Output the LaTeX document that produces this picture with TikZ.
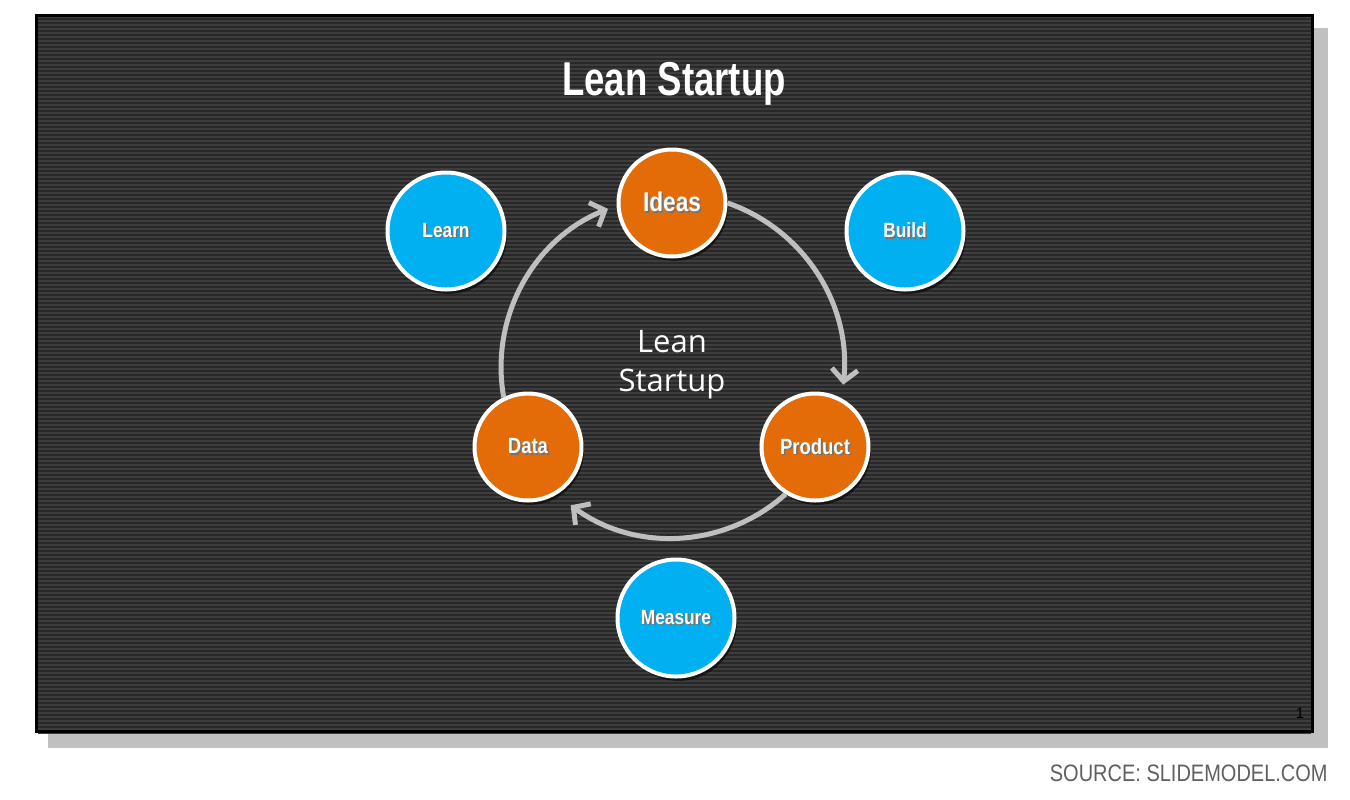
\documentclass[tikz,border=0pt]{standalone}
\usepackage{fontspec}
\usepackage{xcolor}
\usepackage{tikz}
\usetikzlibrary{arrows.meta,shadows}
\setmainfont{Liberation Sans}
\newfontfamily\titlefont[FakeStretch=0.77]{Liberation Sans}
\newfontfamily\stagefont[FakeStretch=0.84]{Liberation Sans}
\newfontfamily\centerfont{Open Sans}
\definecolor{slidebg}{HTML}{282828}
\definecolor{stripe}{HTML}{3D3D3D}
\definecolor{leanorange}{HTML}{E36C09}
\definecolor{leanblue}{HTML}{00B0F0}
\definecolor{cyclegray}{HTML}{BFBFBF}
\definecolor{slideshadow}{HTML}{C0C0C0}
\definecolor{srcgray}{HTML}{5F5F5F}
\newcommand{\txtshadow}[1]{\rlap{\kern0.8pt\raisebox{-0.8pt}{\textcolor{black!55}{#1}}}#1}

\begin{document}
\begin{tikzpicture}[
  x=0.5pt, y=-0.5pt,
  stage/.style={circle, draw=white, line width=2pt, inner sep=0pt,
    minimum size=53.5pt, fill=leanorange, text=white,
    font=\stagefont\bfseries\fontsize{11}{13}\selectfont,
    drop shadow={shadow xshift=1.2pt, shadow yshift=-2.2pt, opacity=0.55, fill=black}},
  phase/.style={stage, minimum size=58.5pt, fill=leanblue,
    font=\stagefont\bfseries\fontsize{10.3}{12}\selectfont},
  cycle/.style={draw=cyclegray, line width=2.5pt,
    -{Straight Barb[length=6pt,width=13pt]}},
  stripeline/.style={stripe, line width=0.8pt}]
  \useasboundingbox (0,0) rectangle (1350,799);
  % slide with its shadow
  \fill[slideshadow] (48,28) rectangle (1328,748);
  \fill[slidebg] (35,14) rectangle (1314,733);
  \foreach \s in {0,...,179}
    \draw[stripeline] (38,{17+4*\s}) -- (1311,{17+4*\s});
  \draw[black, line width=1.5pt] (36.5,15.5) rectangle (1312.5,731.5);

  \node[anchor=base, text=white, font=\titlefont\bfseries\fontsize{23.75}{28}\selectfont]
    (title) at (674,95) {Lean Startup};

  % the cycle
  \node[stage, font=\stagefont\bfseries\fontsize{13.5}{15}\selectfont]
    (ideas) at (672,203) {\txtshadow{Ideas}};
  \node[stage] (product) at (815,447) {\txtshadow{Product}};
  \node[stage] (data) at (528,447) {\txtshadow{Data}};
  \node[text=white, align=center, font=\centerfont\fontsize{15.5}{19.5}\selectfont]
    (hub) at (672,365) {Lean\\Startup};
  \draw[cycle] (ideas.east) arc[start angle=-71, end angle=6, radius=173];
  \draw[cycle] (product.-122) arc[start angle=48, end angle=126, radius=171];
  \draw[cycle] (data.116) arc[start angle=170, end angle=248, radius=171];

  % the phases
  \node[phase] (learn) at (446,231) {\txtshadow{Learn}};
  \node[phase] (build) at (905,231) {\txtshadow{Build}};
  \node[phase] (measure) at (676,618) {\txtshadow{Measure}};

  \node[anchor=base, font=\fontsize{7.5}{9}\selectfont] (pageno) at (1300,718) {1};
  \node[anchor=base east, inner sep=0pt, text=srcgray,
    font=\stagefont\fontsize{11.9}{14}\selectfont]
    (source) at (1328,781) {SOURCE: SLIDEMODEL.COM};
\end{tikzpicture}
\end{document}
